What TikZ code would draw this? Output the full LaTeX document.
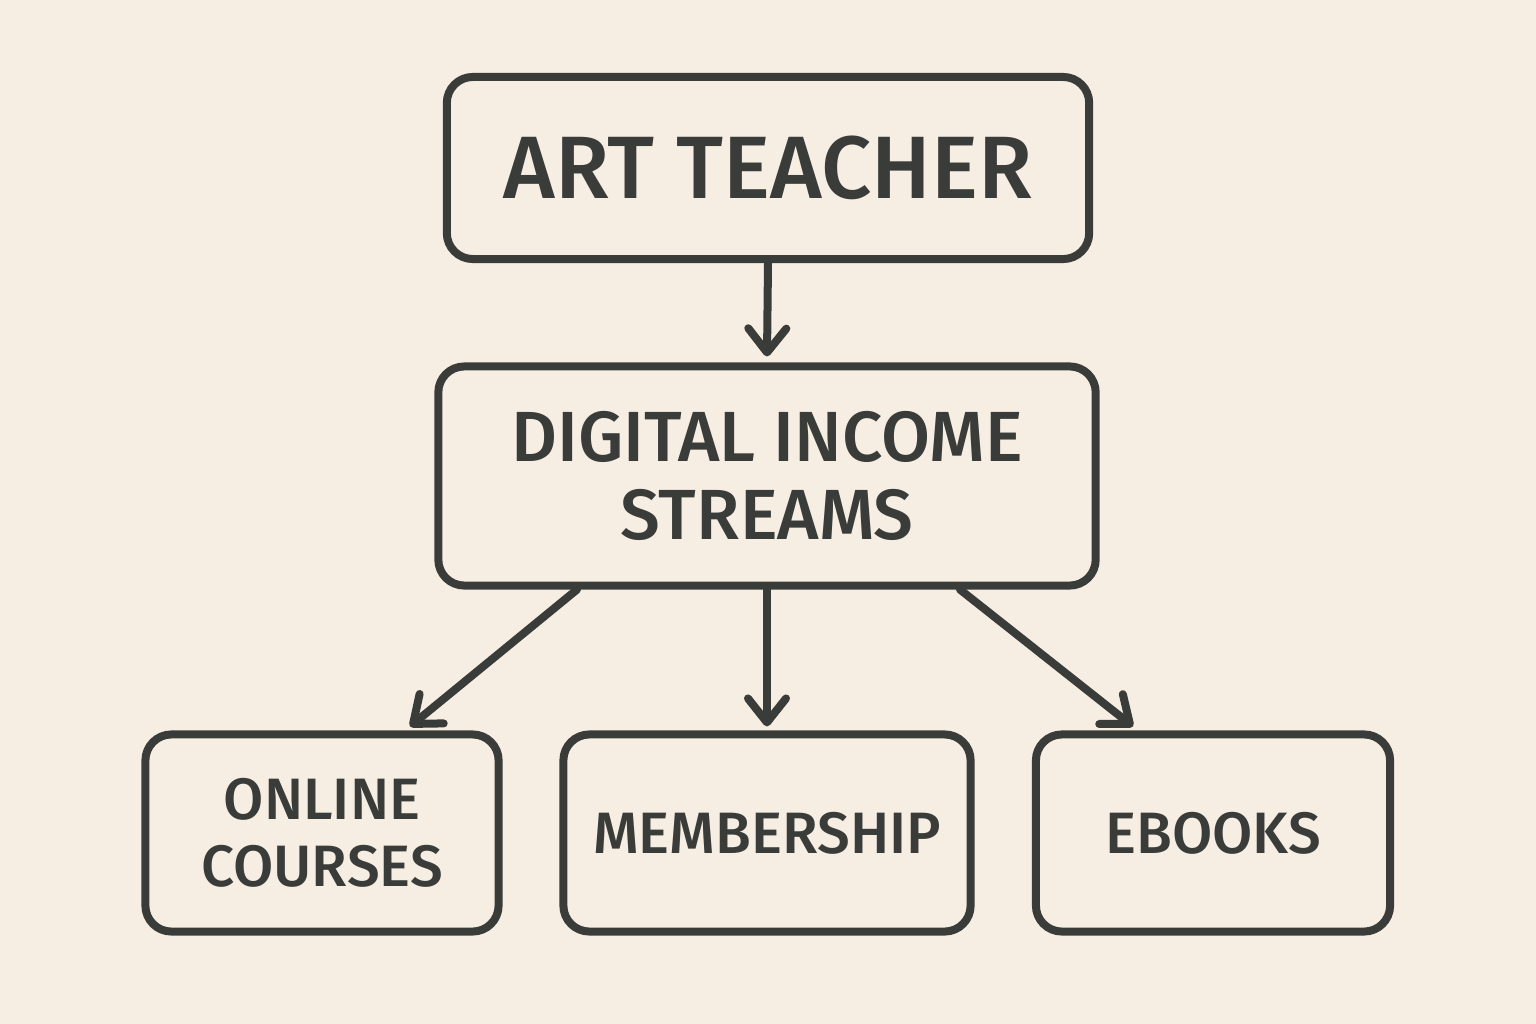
\documentclass[tikz,border=0pt]{standalone}
\usepackage{fontspec}
\setmainfont{Fira Sans}
\newfontfamily\boxfont{Fira Sans Medium}
\usetikzlibrary{arrows.meta,calc}

\definecolor{paper}{HTML}{F7EEE3}
\definecolor{ink}{HTML}{3A3C3A}

\begin{document}
\begin{tikzpicture}[x=0.01cm,y=-0.01cm]
	\tikzstyle{every node}+=[inner sep=0pt]
	\tikzstyle{box}=[draw=ink,line width=0.08cm,rounded corners=0.26cm,text=ink,align=center]
	\tikzstyle{link}=[draw=ink,line width=0.08cm,line cap=round,-{Straight Barb[length=0.24cm,width=0.38cm,line cap=round,line join=round]}]
	\fill [paper] (0,0) rectangle (1536,1024);
	\useasboundingbox (0,0) rectangle (1536,1024);
	\node [box,minimum width=6.42cm,minimum height=1.82cm,font=\boxfont\fontsize{25.2}{30}\selectfont] (teacher) at (768,168) {ART TEACHER};
	\node [box,minimum width=6.57cm,minimum height=2.19cm,font=\boxfont\fontsize{20.2}{22.1}\selectfont] (income) at (767,476) {DIGITAL INCOME\\STREAMS};
	\node [box,minimum width=3.53cm,minimum height=1.97cm,font=\boxfont\fontsize{16.6}{19}\selectfont] (courses) at (322,833) {ONLINE\\COURSES};
	\node [box,minimum width=4.07cm,minimum height=1.97cm,font=\boxfont\fontsize{16.6}{19}\selectfont] (member) at (767,833) {MEMBERSHIP};
	\node [box,minimum width=3.54cm,minimum height=1.97cm,font=\boxfont\fontsize{16.6}{19}\selectfont] (ebooks) at (1213,833) {EBOOKS};
	\draw [link] (teacher.south) -- ($(income.north)+(0,-6)$);
	\draw [link] ($(income.south)+(-190,0)$) -- ($(courses.north)+(88,-4)$);
	\draw [link] (income.south) -- ($(member.north)+(0,-4)$);
	\draw [link] ($(income.south)+(193,0)$) -- ($(ebooks.north)+(-80,-4)$);
\end{tikzpicture}
\end{document}
